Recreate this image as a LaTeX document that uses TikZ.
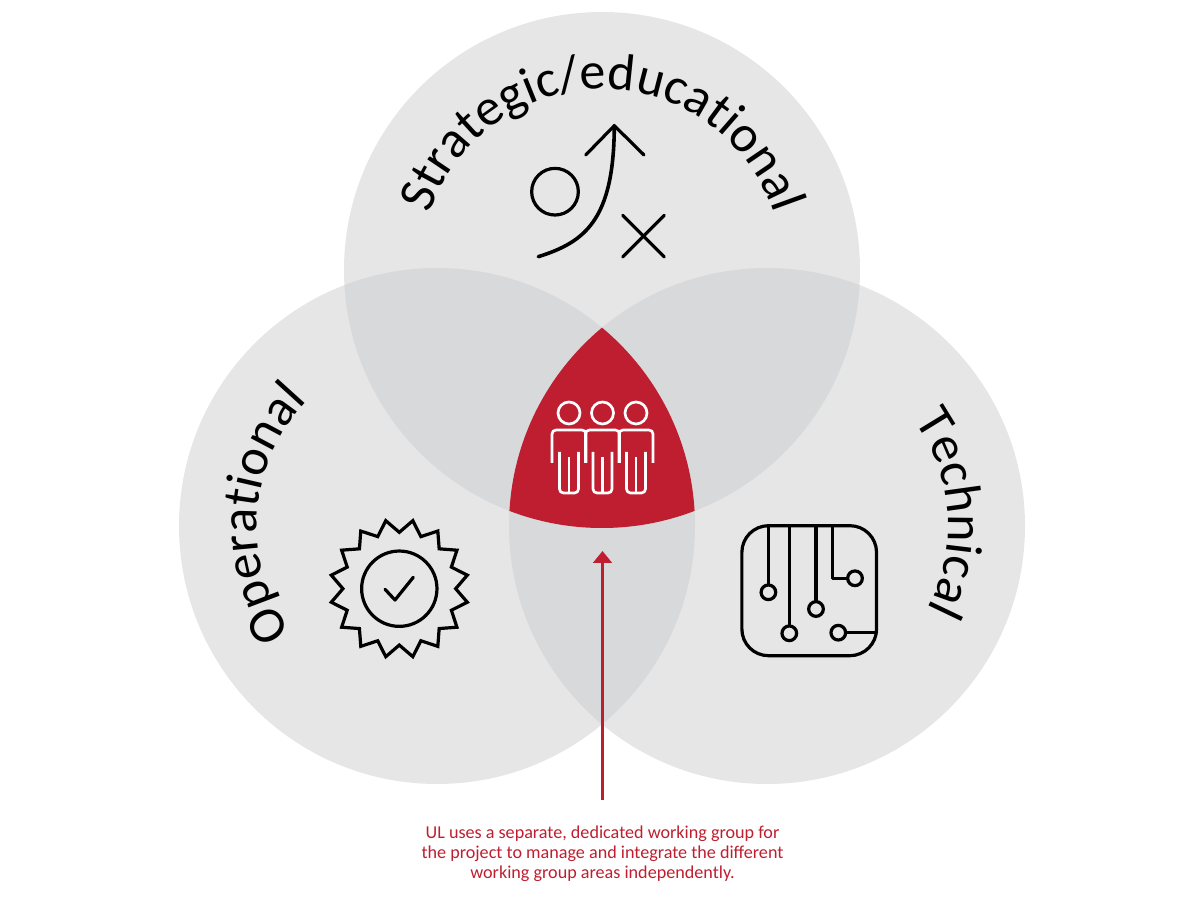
\documentclass[tikz,border=0pt]{standalone}
\usepackage{fontspec}
\setmainfont{Carlito}
\usetikzlibrary{decorations.text,shapes.geometric,arrows.meta}
\definecolor{vennbase}{HTML}{E6E6E6}
\definecolor{vennmid}{HTML}{D8D9DB}
\definecolor{ulred}{HTML}{BE1E2F}
\tikzset{
  venn/.style={circle, fill=vennbase, minimum size=387pt, inner sep=0pt},
  icon/.style={draw=black, line width=2.4pt, line cap=round, line join=round},
  pad/.style={circle, draw=black, line width=2.4pt, minimum size=11pt, inner sep=0pt},
  person/.style={draw=white, line width=2pt, line cap=butt},
  arclabel/.style={decorate, decoration={text along path, text align=center,
      text={|\fontsize{#1}{#1}\selectfont|\arctext}}},
}
\begin{document}
\begin{tikzpicture}[x=0.75pt, y=0.75pt]

    \useasboundingbox (0,0) rectangle (1200,900);

    % Define circles
    \node[venn] (strategic)   at (602,630) {};
    \node[venn] (operational) at (437,374) {};
    \node[venn] (technical)   at (767,374) {};

    % Overlaps
    \begin{scope}
      \clip (strategic.center) circle [radius=258];
      \fill[vennmid] (operational.center) circle [radius=258];
      \fill[vennmid] (technical.center) circle [radius=258];
    \end{scope}
    \begin{scope}
      \clip (operational.center) circle [radius=258];
      \fill[vennmid] (technical.center) circle [radius=258];
      \clip (technical.center) circle [radius=258];
      \fill[ulred] (strategic.center) circle [radius=258];
    \end{scope}

    % Circle labels
    \def\arctext{Strategic/educational}
    \path[arclabel=39pt] (strategic.center) ++(170:181) arc [start angle=170, end angle=10, radius=181];
    \def\arctext{Operational}
    \path[arclabel=39pt] (operational.center) ++(226:180) arc [start angle=226, end angle=126, radius=180];
    \def\arctext{Technical}
    \path[arclabel=39pt] (technical.center) ++(44:181) arc [start angle=44, end angle=-36, radius=181];

    % Strategic icon
    \node[circle, icon, minimum size=35pt, inner sep=0pt] (ring) at (555,708.3) {};
    \draw[icon, line width=2.7pt] (538.3,643.3) .. controls (585,658) and (614,680) .. (614.3,774.3);
    \draw[icon] (585.7,745) -- (614.3,774.3) -- (644,745);
    \draw[icon] (622.7,684.7) -- (664.3,643);
    \draw[icon] (664.3,684.7) -- (622.7,643);

    % Operational icon
    \node[star, star points=16, star point ratio=1.23, shape border rotate=11.25, draw=black,
          line width=2.4pt, minimum size=104pt, inner sep=0pt] (seal) at (399.3,311.3) {};
    \node[circle, icon, minimum size=56.5pt, inner sep=0pt] (dial) at (seal.center) {};
    \draw[icon] (385,310.7) -- (395,300) -- (413.3,322.7);

    % Technical icon
    \node[icon, rounded corners=20pt, outer sep=0pt, minimum width=101pt, minimum height=97.5pt, inner sep=0pt] (board) at (809.2,309.3) {};
    \node[pad] (p1) at (768.4,307.7) {};
    \node[pad] (p2) at (789.3,266.7) {};
    \node[pad] (p3) at (816,291) {};
    \node[pad] (p4) at (855,321.7) {};
    \node[pad] (p5) at (838.3,267.3) {};
    \draw[icon] (p1) -- (p1 |- board.north);
    \draw[icon] (p2) -- (p2 |- board.north);
    \draw[icon] (p3) -- (p3 |- board.north);
    \draw[icon] (p4.west) -- (832.7,321.7) -- (832.7,374.3);
    \draw[icon] (p5) -- (p5 -| board.east);

    % People
    \foreach \px in {569,602.5,636} {
      \draw[person] (\px,487) circle [radius=11];
      \draw[person, rounded corners=3pt] (\px-17,437) -- (\px-17,470) -- (\px+17,470) -- (\px+17,437);
      \draw[person, rounded corners=3pt] (\px-9.5,448) -- (\px-9.5,407) -- (\px+9.5,407) -- (\px+9.5,448);
      \draw[person] (\px,407) -- (\px,443);
    }

    % Pointer and caption
    \coordinate (pointerfoot) at (602.5,100);
    \coordinate (pointertip) at (602.5,349);
    \draw[ulred, line width=2.2pt, -{Triangle[length=9pt, width=14pt]}] (pointerfoot) -- (pointertip);
    \node[text=ulred, align=center, font=\fontsize{13.6}{15}\selectfont] (caption) at (602.5,46.5)
      {UL uses a separate, dedicated working group for\\
       the project to manage and integrate the different\\
       working group areas independently.};

\end{tikzpicture}
\end{document}
